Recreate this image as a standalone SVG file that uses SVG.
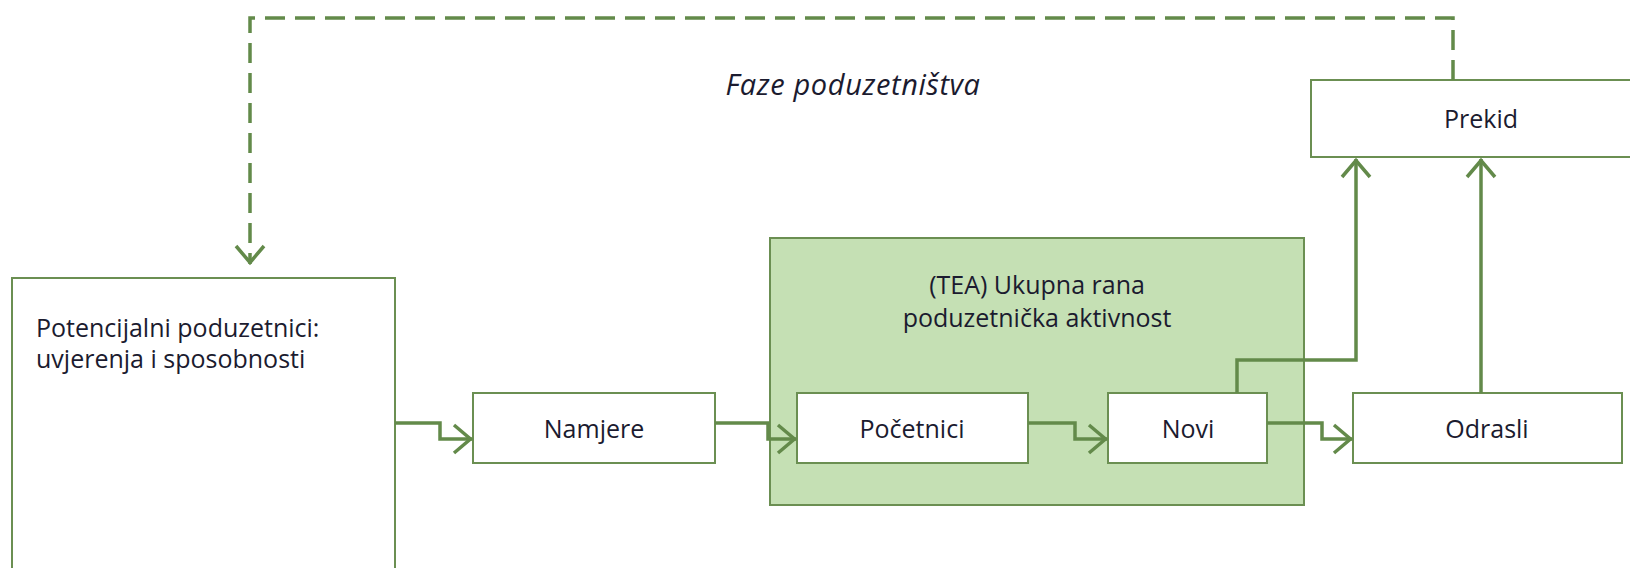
<svg xmlns="http://www.w3.org/2000/svg" width="1630" height="568" viewBox="0 0 1630 568">
<style>
.box{fill:#ffffff;stroke:#6b8f52;stroke-width:2}
.tea{fill:#c5e0b4;stroke:#6b8f52;stroke-width:2}
.lbl{font-family:"Open Sans","Liberation Sans",sans-serif;font-size:25px;fill:#1b1b2f}
.mid{text-anchor:middle}
.ttl{font-family:"Open Sans","Liberation Sans",sans-serif;font-size:29px;font-style:italic;letter-spacing:0.6px;fill:#1b1b2f}
.con{fill:none;stroke:#638a4a;stroke-width:3.5;stroke-linejoin:miter}
.dash{stroke-dasharray:20 10}
</style>
<defs>
<marker id="arr" viewBox="-22 -16 24 32" refX="0" refY="0" markerWidth="24" markerHeight="32" markerUnits="userSpaceOnUse" orient="auto">
<path d="M-18,-14 L-1.5,0 L-18,14" fill="none" stroke="#638a4a" stroke-width="3.5" stroke-dasharray="none"/>
</marker>
</defs>
<rect width="1630" height="568" fill="#ffffff"/>
<g id="title">
<text class="ttl" x="853" y="95" text-anchor="middle">Faze poduzetništva</text>
</g>
<g id="tea">
<rect class="tea" x="770" y="238" width="534" height="267"/>
<text class="lbl mid" x="1037" y="294">(TEA) Ukupna rana</text>
<text class="lbl mid" x="1037" y="327">poduzetnička aktivnost</text>
</g>
<g id="potencijalni">
<rect class="box" x="12" y="278" width="383" height="320"/>
<text class="lbl" x="36" y="337">Potencijalni poduzetnici:</text>
<text class="lbl" x="36" y="368">uvjerenja i sposobnosti</text>
</g>
<g id="namjere">
<rect class="box" x="473" y="393" width="242" height="70"/>
<text class="lbl mid" x="594" y="438">Namjere</text>
</g>
<g id="pocetnici">
<rect class="box" x="797" y="393" width="231" height="70"/>
<text class="lbl mid" x="912" y="438">Početnici</text>
</g>
<g id="novi">
<rect class="box" x="1108" y="393" width="159" height="70"/>
<text class="lbl mid" x="1188" y="438">Novi</text>
</g>
<g id="odrasli">
<rect class="box" x="1353" y="393" width="269" height="70"/>
<text class="lbl mid" x="1487" y="438">Odrasli</text>
</g>
<g id="prekid">
<rect class="box" x="1311" y="80" width="340" height="77"/>
<text class="lbl mid" x="1481" y="128">Prekid</text>
</g>
<g id="connectors">
<path class="con" d="M395,423 H440 V439 H472" marker-end="url(#arr)"/>
<path class="con" d="M715,423 H768 V439 H796" marker-end="url(#arr)"/>
<path class="con" d="M1028,423 H1075 V439 H1107" marker-end="url(#arr)"/>
<path class="con" d="M1267,423 H1322 V439 H1352" marker-end="url(#arr)"/>
<path class="con" d="M1237,393 V360 H1356 V159" marker-end="url(#arr)"/>
<path class="con" d="M1481,393 V159" marker-end="url(#arr)"/>
<path class="con dash" d="M1453,80 V18 H250 V264" marker-end="url(#arr)"/>
</g>
</svg>
